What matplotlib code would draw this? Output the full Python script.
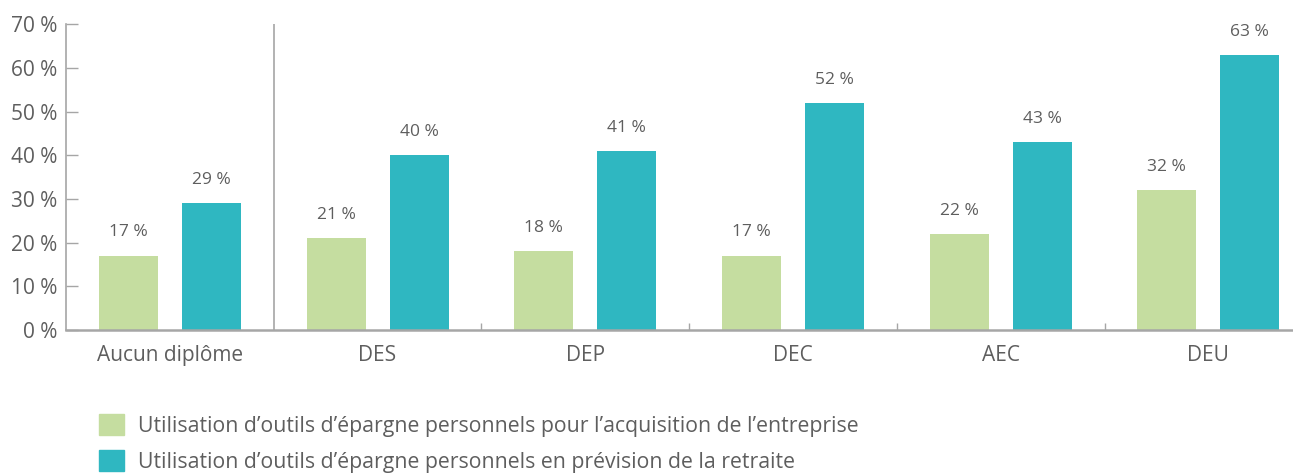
import matplotlib
matplotlib.use("Agg")
import matplotlib.pyplot as plt
from matplotlib.patches import Patch
import numpy as np

# Data
categories = ["Aucun diplôme", "DES", "DEP", "DEC", "AEC", "DEU"]
acquisition = [17, 21, 18, 17, 22, 32]
retraite = [29, 40, 41, 52, 43, 63]
series_labels = [
    "Utilisation d\u2019outils d\u2019épargne personnels pour l\u2019acquisition de l\u2019entreprise",
    "Utilisation d\u2019outils d\u2019épargne personnels en prévision de la retraite",
]
y_ticks = [0, 10, 20, 30, 40, 50, 60, 70]

green = "#c5dda0"
teal = "#2fb7c1"
text_col = "#5e5e5e"
axis_col = "#a6a6a6"

plt.rcParams["font.family"] = ["Open Sans", "DejaVu Sans"]

W, H = 1293, 474
fig = plt.figure(figsize=(W / 100, H / 100), dpi=100)

# axes placed in pixel terms; right end runs off the figure edge
left_px, right_px, top_px, bottom_px = 66, 1293, 24.3, 330
ax = fig.add_axes([left_px / W, 1 - bottom_px / H,
                   (right_px - left_px) / W, (bottom_px - top_px) / H])

group_px = 207.7
x = np.arange(len(categories))
bw = 59 / group_px
off = 0.2

b1 = ax.bar(x - off, acquisition, bw, color=green)
b2 = ax.bar(x + off, retraite, bw, color=teal)
for bars in (b1, b2):
    ax.bar_label(bars, labels=[f"{v:.0f} %" for v in bars.datavalues],
                 padding=11, fontsize=12.5, color=text_col)

ax.set_xlim(-0.5, -0.5 + (right_px - left_px) / group_px)
ax.set_ylim(0, 70)

# separator after the first group
ax.axvline(0.5, color=axis_col, lw=1.2)

ax.set_yticks(y_ticks)
ax.set_yticklabels([f"{t} %" for t in y_ticks])
ax.tick_params(axis="y", direction="in", length=8.5, width=1, color=axis_col,
               labelsize=15, labelcolor=text_col, pad=6)

ax.set_xticks(x)
ax.set_xticklabels(categories)
ax.set_xticks(x[1:-1] + 0.5, minor=True)
ax.tick_params(axis="x", which="major", length=0, labelsize=15,
               labelcolor=text_col, pad=11)
ax.tick_params(axis="x", which="minor", direction="in", length=5, width=1,
               color=axis_col)

for s in ("top", "right"):
    ax.spines[s].set_visible(False)
ax.spines["left"].set_color(axis_col)
ax.spines["left"].set_linewidth(1.2)
ax.spines["bottom"].set_color(axis_col)
ax.spines["bottom"].set_linewidth(1.8)

handles = [Patch(color=green), Patch(color=teal)]
fig.legend(handles, series_labels, loc="upper left",
           bbox_to_anchor=(99 / W, 1 - 414 / H), frameon=False,
           fontsize=15.3, labelcolor=text_col, handlelength=1.17,
           handleheight=1.17, handletextpad=0.65, labelspacing=0.62,
           borderpad=0, borderaxespad=0)

fig.savefig("out.png", dpi=100)
